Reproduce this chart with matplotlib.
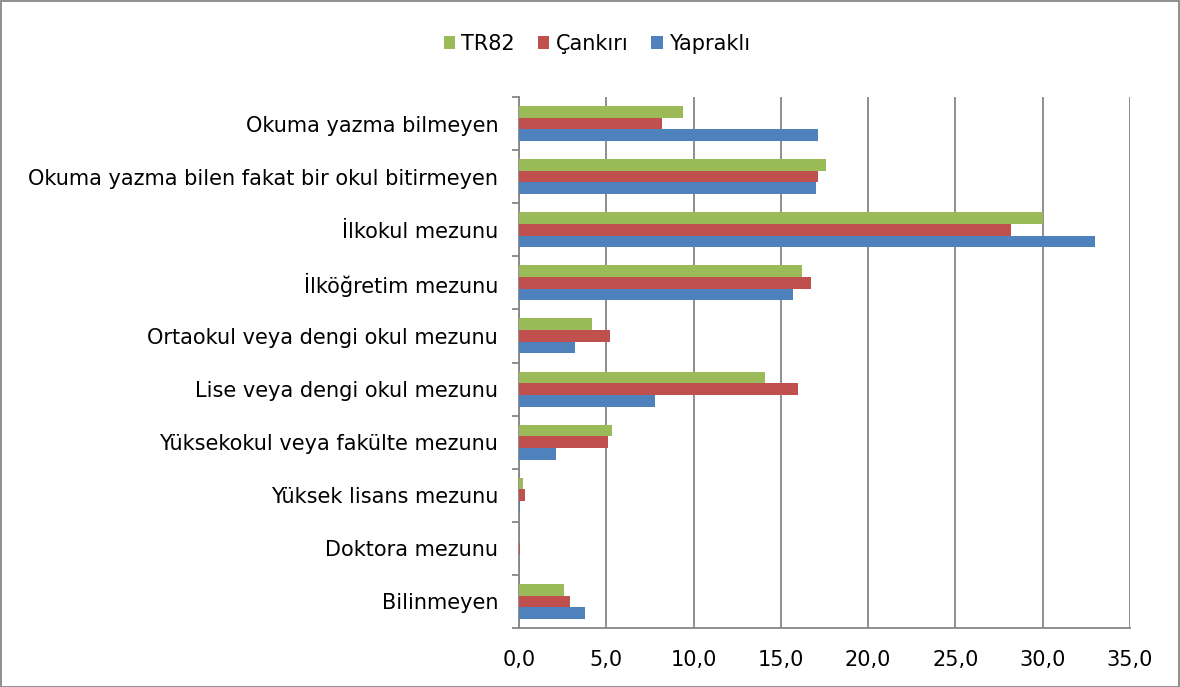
import numpy as np
import matplotlib
matplotlib.use("Agg")
import matplotlib.pyplot as plt
from matplotlib.patches import Rectangle
from matplotlib.ticker import FuncFormatter, FixedLocator

# veriler (%)
kategoriler = [
    "Okuma yazma bilmeyen",
    "Okuma yazma bilen fakat bir okul bitirmeyen",
    "İlkokul mezunu",
    "İlköğretim mezunu",
    "Ortaokul veya dengi okul mezunu",
    "Lise veya dengi okul mezunu",
    "Yüksekokul veya fakülte mezunu",
    "Yüksek lisans mezunu",
    "Doktora mezunu",
    "Bilinmeyen",
]
tr82 = [9.4, 17.6, 30.0, 16.2, 4.2, 14.1, 5.3, 0.25, 0.01, 2.6]
cankiri = [8.2, 17.1, 28.2, 16.7, 5.2, 16.0, 5.1, 0.36, 0.08, 2.9]
yaprakli = [17.1, 17.0, 33.0, 15.7, 3.2, 7.8, 2.1, 0.07, 0.0, 3.8]

seriler = ["TR82", "Çankırı", "Yapraklı"]
renkler = ["#9BBB59", "#C0504D", "#4F81BD"]

plt.rcParams['font.family'] = ['DejaVu Sans']

fig = plt.figure(figsize=(11.8, 6.87), dpi=100)
ax = fig.add_axes([519 / 1180, 1 - 628 / 687, (1130 - 519) / 1180, (628 - 97) / 687])

y = np.arange(len(kategoriler))
h = 0.22
for k, (vals, ad, renk) in enumerate(zip([tr82, cankiri, yaprakli], seriler, renkler)):
    ax.barh(y + (k - 1) * h, vals, height=h, color=renk, label=ad, zorder=3)

ax.set_xlim(0, 35)
ax.set_ylim(len(kategoriler) - 0.5, -0.5)
ax.set_xticks(np.arange(0, 36, 5))
ax.xaxis.set_major_formatter(FuncFormatter(lambda v, p: f"{v:.1f}".replace(".", ",")))
ax.grid(axis='x', color='#868686', linewidth=1.3, zorder=0)

ax.set_yticks(y)
ax.set_yticklabels(kategoriler)
ax.yaxis.set_minor_locator(FixedLocator(np.arange(-0.5, len(kategoriler), 1)))
ax.tick_params(axis='y', which='major', length=0, pad=15, labelsize=15)
ax.tick_params(axis='y', which='minor', length=5, color='#868686', width=1.3)
ax.tick_params(axis='x', length=0, pad=16, labelsize=15)

for s in ['top', 'right']:
    ax.spines[s].set_visible(False)
for s in ['left', 'bottom']:
    ax.spines[s].set_color('#868686')
    ax.spines[s].set_linewidth(1.3)

ax.legend(loc='center', bbox_to_anchor=(597 / 1180, 1 - 44 / 687), bbox_transform=fig.transFigure,
          ncol=3, frameon=False, fontsize=15, handlelength=0.55, handleheight=0.6,
          handletextpad=0.3, columnspacing=1.1)

fig.patches.append(Rectangle((0.5 / 1180, 0.5 / 687), 1 - 1.5 / 1180, 1 - 1.5 / 687,
                             transform=fig.transFigure, fill=False, edgecolor='#868686', linewidth=1.3))

fig.savefig("out.png", dpi=100)
